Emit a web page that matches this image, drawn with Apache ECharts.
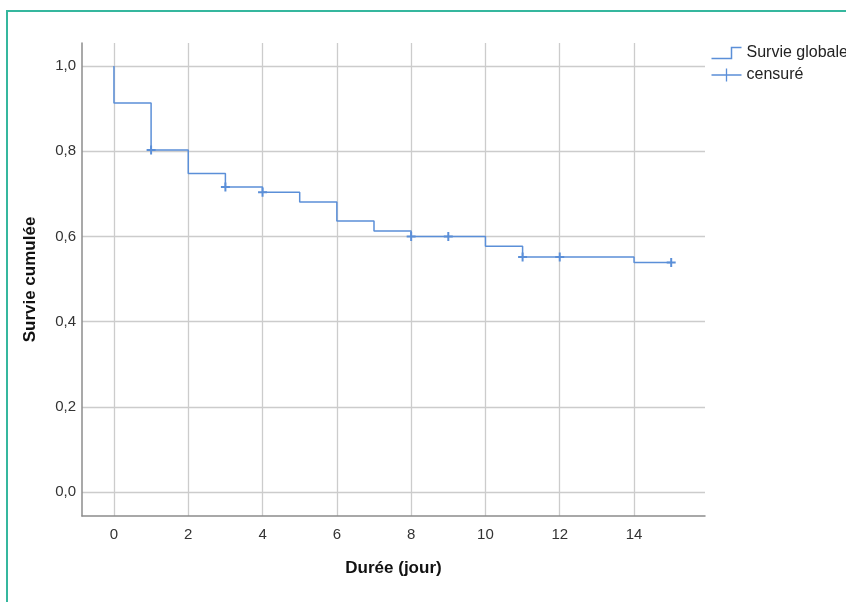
<!DOCTYPE html>
<html>
<head>
<meta charset="utf-8">
<script src="https://cdn.jsdelivr.net/npm/echarts@6/dist/echarts.min.js"></script>
<style>
  html, body { margin: 0; padding: 0; background: #fff; }
  #chart { width: 846px; height: 602px; }
  .frame {
    position: absolute; left: 6px; top: 10px; right: -4px; bottom: -4px;
    border-left: 2px solid #35b79e; border-top: 2px solid #35b79e;
    pointer-events: none;
  }
</style>
</head>
<body>
<div id="chart"></div>
<div class="frame"></div>
<script>
// courbe de Kaplan-Meier (temps, survie apres l'evenement)
const stepTimes = [0, 0, 1, 2, 3, 4, 5, 6, 7, 8, 10, 11, 14, 15];
const stepSurvival = [1.0, 0.913, 0.803, 0.748, 0.716, 0.704, 0.681, 0.636, 0.613, 0.600, 0.577, 0.552, 0.539, 0.539];
// observations censurees
const censorTimes = [1, 3, 4, 8, 9, 11, 12, 15];
const censorSurvival = [0.803, 0.716, 0.704, 0.600, 0.600, 0.552, 0.552, 0.539];
// graduations
const xTicks = [0, 2, 4, 6, 8, 10, 12, 14];
const yTicks = [0, 0.2, 0.4, 0.6, 0.8, 1.0];

const blue = "#5b8fd8";
const font = "Arial, 'Liberation Sans', sans-serif";

let myChart = echarts.init(document.getElementById("chart"));
myChart.setOption({
  animation: false,
  grid: { left: 82, top: 43, right: 141, bottom: 86 },
  legend: {
    orient: "vertical",
    left: 704,
    top: 40,
    itemWidth: 30,
    itemHeight: 14,
    itemGap: 6,
    textStyle: { fontFamily: font, fontSize: 16, color: "#222" },
    data: [
      {
        name: "Survie globale",
        icon: "path://M0,12H20V1H30",
        itemStyle: { color: "none", borderColor: blue, borderWidth: 1.5 },
        lineStyle: { width: 0, opacity: 0 },
      },
      {
        name: "censuré",
        icon: "path://M0,6.3H32V7.7H0Z M15.3,0H16.7V14H15.3Z",
        itemStyle: { color: blue },
      },
    ],
  },
  xAxis: {
    type: "value",
    min: -0.86,
    max: 15.91,
    name: "Durée (jour)",
    nameLocation: "middle",
    nameGap: 44,
    nameTextStyle: { fontFamily: font, fontSize: 17, fontWeight: "bold", color: "#111" },
    axisLine: { onZero: false, lineStyle: { color: "#8c8c8c", width: 1.5 } },
    axisTick: { show: false, customValues: xTicks },
    axisLabel: {
      customValues: xTicks,
      fontFamily: font,
      fontSize: 15,
      color: "#333",
      margin: 11,
    },
    splitLine: { show: true, lineStyle: { color: "#cccccc", width: 1.3 } },
  },
  yAxis: {
    type: "value",
    min: -0.056,
    max: 1.054,
    name: "Survie cumulée",
    nameLocation: "middle",
    nameGap: 43,
    nameTextStyle: { fontFamily: font, fontSize: 17, fontWeight: "bold", color: "#111" },
    axisLine: { show: true, onZero: false, lineStyle: { color: "#8c8c8c", width: 1.5 } },
    axisTick: { show: false, customValues: yTicks },
    axisLabel: {
      customValues: yTicks,
      fontFamily: font,
      fontSize: 15,
      color: "#333",
      margin: 6,
      formatter: (v) => v.toFixed(1).replace(".", ","),
    },
    splitLine: { show: true, lineStyle: { color: "#cccccc", width: 1.3 } },
  },
  series: [
    {
      name: "Survie globale",
      type: "line",
      step: "end",
      showSymbol: false,
      symbol: "none",
      lineStyle: { color: blue, width: 1.5 },
      itemStyle: { color: blue },
      data: stepTimes.map((t, i) => [t, stepSurvival[i]]),
    },
    {
      name: "censuré",
      type: "scatter",
      symbol: "path://M-1,-0.22H1V0.22H-1Z M-0.22,-1H0.22V1H-0.22Z",
      symbolSize: 9,
      itemStyle: { color: blue, opacity: 1 },
      data: censorTimes.map((t, i) => [t, censorSurvival[i]]),
    },
  ],
});
</script>
</body>
</html>
